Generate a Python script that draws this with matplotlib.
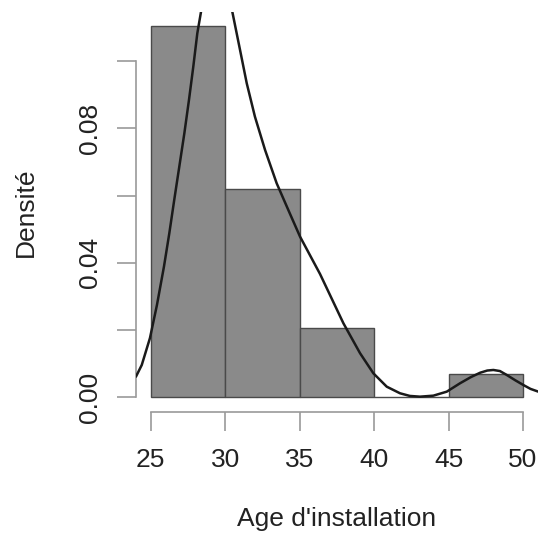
import matplotlib
matplotlib.use("Agg")
import matplotlib.pyplot as plt
import numpy as np

plt.rcParams['font.family'] = ['Liberation Sans', 'DejaVu Sans']

# Histogram of installation age (bins of 5 years)
bin_edges = [25, 30, 35, 40, 45, 50]
bin_counts = [16, 9, 3, 0, 1]

# Kernel density estimate
kde_x = [24.01, 24.40, 24.95, 25.42, 25.89, 26.25, 26.58, 26.92, 27.26, 27.57,
         27.86, 28.13, 28.38, 28.80, 29.40, 30.00, 30.48, 31.00, 31.45, 32.00,
         32.68, 33.46, 34.36, 35.03, 36.37, 37.94, 39.06, 39.95, 40.85, 41.74,
         42.40, 43.08, 43.98, 44.88, 45.77, 46.50, 47.12, 47.60, 48.01, 48.45,
         48.91, 49.50, 50.02, 50.50, 51.03]
kde_y = [0.00613, 0.00960, 0.01760, 0.02745, 0.03884, 0.04877, 0.05868, 0.06858,
         0.07851, 0.08842, 0.09832, 0.10825, 0.11468, 0.12400, 0.12900, 0.12400,
         0.11468, 0.10329, 0.09338, 0.08345, 0.07355, 0.06364, 0.05450, 0.04776,
         0.03667, 0.02201, 0.01309, 0.00714, 0.00315, 0.00119, 0.00040, 0.00018,
         0.00048, 0.00167, 0.00416, 0.00600, 0.00730, 0.00795, 0.00812, 0.00780,
         0.00663, 0.00500, 0.00366, 0.00250, 0.00167]

x_ticks = [25, 30, 35, 40, 45, 50]
y_ticks = [0.00, 0.02, 0.04, 0.06, 0.08, 0.10]
y_tick_labels = ["0.00", "", "0.04", "", "0.08", ""]

W, H = 539, 543
fig = plt.figure(figsize=(W / 100, H / 100), dpi=100)
ax = fig.add_axes([135.8 / W, 1 - 412.1 / H, (537.9 - 135.8) / W, (412.1 - 11.6) / H])

counts = np.array(bin_counts, dtype=float)
edges = np.array(bin_edges, dtype=float)
widths = np.diff(edges)
density = counts / (counts.sum() * widths)

ax.bar(edges[:-1], density, width=widths, align='edge',
       color='#8a8a8a', edgecolor='#4a4a4a', linewidth=1.0, zorder=2)
ax.plot(kde_x, kde_y, color='#1a1a1a', linewidth=1.8, zorder=3,
        solid_joinstyle='round', solid_capstyle='round')

ax.set_xlim(24, 51)
ax.set_ylim(-0.00441, 0.11471)

for side in ('top', 'right'):
    ax.spines[side].set_visible(False)
for side in ('left', 'bottom'):
    ax.spines[side].set_color('#9a9a9a')
    ax.spines[side].set_linewidth(1.2)
ax.spines['bottom'].set_bounds(25, 50)
ax.spines['left'].set_bounds(0, 0.10)

ax.set_xticks(x_ticks)
ax.set_xticklabels([str(t) for t in x_ticks])
ax.set_yticks(y_ticks)
ax.set_yticklabels(y_tick_labels, rotation=90, va='center')

ax.tick_params(axis='both', length=14, width=1.2, color='#9a9a9a',
               labelsize=19, labelcolor='#222222')
ax.tick_params(axis='x', pad=12)
ax.tick_params(axis='y', pad=10)

ax.set_xlabel("Age d'installation", fontsize=19, color='#222222', labelpad=25)
ax.set_ylabel("Densité", fontsize=19, color='#222222', labelpad=29)

fig.savefig("out.png", dpi=100)
